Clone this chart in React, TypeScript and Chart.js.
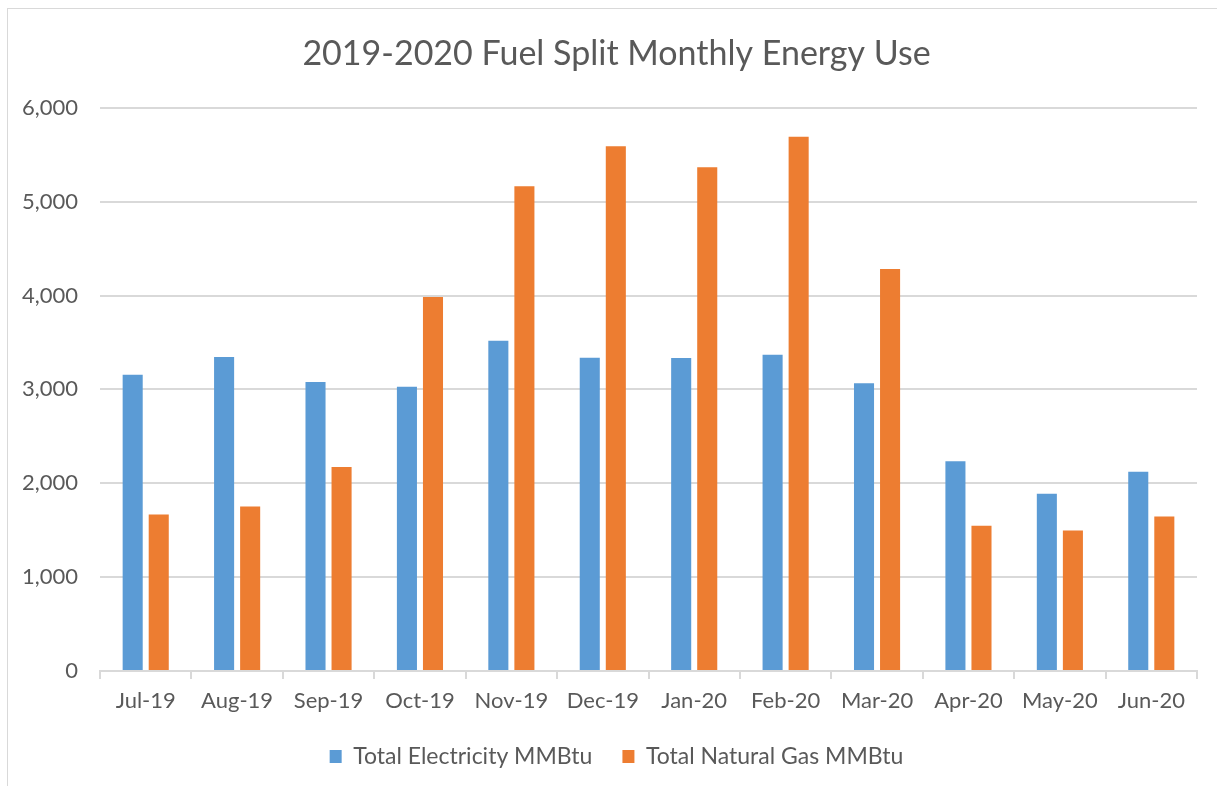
import React, { useEffect, useRef } from "react";
import { Chart, registerables } from "chart.js";

Chart.register(...registerables);

const months = ["Jul-19", "Aug-19", "Sep-19", "Oct-19", "Nov-19", "Dec-19", "Jan-20", "Feb-20", "Mar-20", "Apr-20", "May-20", "Jun-20"];
const electricity = [3155, 3345, 3080, 3028, 3517, 3336, 3334, 3370, 3065, 2235, 1888, 2124];
const naturalGas = [1667, 1752, 2172, 3985, 5165, 5590, 5366, 5691, 4284, 1547, 1497, 1647];
const yTicks = [0, 1000, 2000, 3000, 4000, 5000, 6000];

const TEXT = "#595959";
const GRID = "#D9D9D9";
const FONT = "Lato, 'Open Sans', sans-serif";

export default function App() {
  const ref = useRef<HTMLCanvasElement | null>(null);
  useEffect(() => {
    if (!ref.current) return;
    const chart = new Chart(ref.current, {
      type: "bar",
      data: {
        labels: months,
        datasets: [
          { label: "Total Electricity MMBtu", data: electricity, backgroundColor: "#5B9BD5", borderWidth: 0 },
          { label: "Total Natural Gas MMBtu", data: naturalGas, backgroundColor: "#ED7D31", borderWidth: 0 },
        ],
      },
      options: {
        animation: false,
        responsive: false,
        maintainAspectRatio: false,
        datasets: { bar: { categoryPercentage: 0.57, barPercentage: 0.77 } },
        layout: { padding: { left: 16, right: 0, top: 0, bottom: 8 } },
        plugins: {
          title: {
            display: true,
            text: "2019-2020 Fuel Split Monthly Energy Use",
            color: TEXT,
            font: { family: FONT, size: 34, weight: "normal" },
            padding: { top: 34, bottom: 33 },
          },
          legend: {
            position: "bottom",
            labels: {
              color: TEXT,
              font: { family: FONT, size: 23 },
              boxWidth: 12,
              boxHeight: 13,
              padding: 30,
            },
          },
          tooltip: { enabled: false },
        },
        scales: {
          x: {
            grid: { display: true, drawOnChartArea: false, offset: true, tickLength: 8, color: GRID, lineWidth: 2 },
            border: { display: true, color: GRID, width: 2 },
            ticks: { color: TEXT, font: { family: FONT, size: 22 }, padding: 9, maxRotation: 0 },
            afterFit: (s: any) => { s.height = 44; },
          },
          y: {
            min: 0,
            max: 6000,
            afterBuildTicks: (s: any) => { s.ticks = yTicks.map((v) => ({ value: v })); },
            grid: { color: GRID, lineWidth: 2, drawTicks: false },
            border: { display: false },
            ticks: {
              color: TEXT,
              font: { family: FONT, size: 22 },
              padding: 22,
              callback: (v: any) => Number(v).toLocaleString("en-US"),
            },
            afterFit: (s: any) => { s.width = 84; },
          },
          yRight: {
            position: "right",
            display: true,
            grid: { display: false },
            border: { display: false },
            ticks: { display: false },
            afterFit: (s: any) => { s.width = 20; },
          },
        },
      },
    });
    return () => chart.destroy();
  }, []);
  return (
    <div style={{ position: "fixed", left: 0, top: 0, width: 1217, height: 786, background: "#fff" }}>
      <div style={{ position: "absolute", left: 7, top: 8, width: 1240, height: 800, border: "1px solid #D9D9D9" }} />
      <canvas ref={ref} width={1217} height={786} style={{ position: "absolute", left: 0, top: 0 }} />
    </div>
  );
}
